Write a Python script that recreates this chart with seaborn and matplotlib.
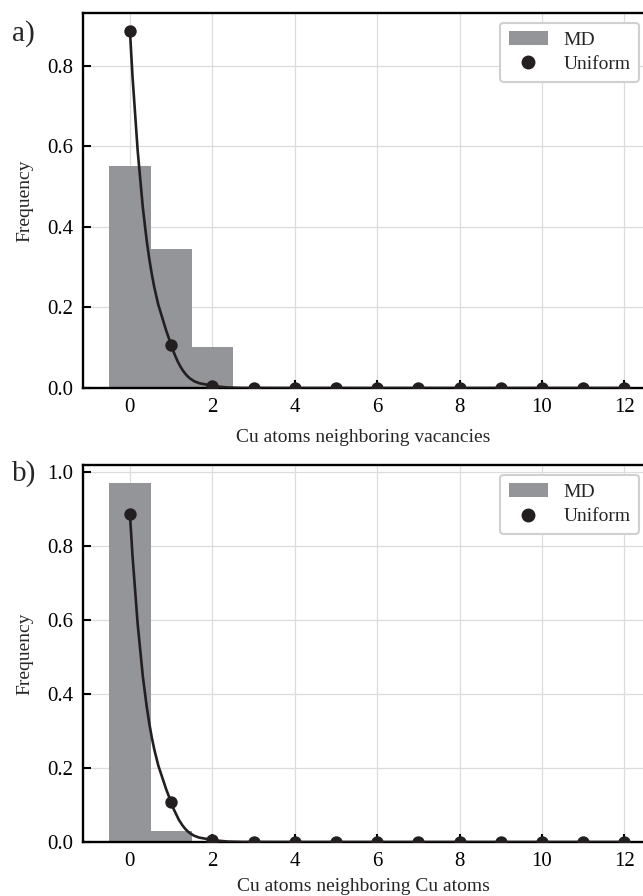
import numpy as np
import pandas as pd
import seaborn as sns
import matplotlib
matplotlib.use("Agg")
import matplotlib.pyplot as plt
from matplotlib.path import Path
from matplotlib.patches import PathPatch, Patch
from matplotlib.lines import Line2D

# data
n_neighbors = list(range(13))
md_vacancies = [0.55, 0.345, 0.102, 0, 0, 0, 0, 0, 0, 0, 0, 0, 0]
md_cu = [0.97, 0.03, 0, 0, 0, 0, 0, 0, 0, 0, 0, 0, 0]
uniform = [0.886, 0.107, 0.006, 0.0002, 0, 0, 0, 0, 0, 0, 0, 0, 0]
xlabels = ["Cu atoms neighboring vacancies", "Cu atoms neighboring Cu atoms"]
panel_tags = ["a)", "b)"]

bar_color = "#939598"
dot_color = "#231f20"

sns.set_theme(style="ticks")
plt.rcParams["font.family"] = ["Liberation Serif", "DejaVu Serif"]


def smooth_path(x, y):
    # cubic bezier through the points, tangents follow the decay rate
    y = np.asarray(y, dtype=float)
    d = np.zeros(len(y))
    for i in range(len(y) - 1):
        if y[i] > 0 and y[i + 1] > 0:
            d[i] = y[i] * np.log(y[i + 1] / y[i])
    verts = [(x[0], y[0])]
    codes = [Path.MOVETO]
    for i in range(len(y) - 1):
        h = x[i + 1] - x[i]
        verts += [(x[i] + h / 3, y[i] + d[i] * h / 3),
                  (x[i + 1] - h / 3, y[i + 1] - d[i + 1] * h / 3),
                  (x[i + 1], y[i + 1])]
        codes += [Path.CURVE4] * 3
    return Path(verts, codes)


fig = plt.figure(figsize=(6.43, 8.96), dpi=100)
ax_a = fig.add_axes([0.129, 0.567, 0.871, 0.4185])
ax_b = fig.add_axes([0.129, 0.0603, 0.871, 0.4207])

for ax, md, xl, pad in zip([ax_a, ax_b], [md_vacancies, md_cu], xlabels, [9, 5]):
    df = pd.DataFrame({"n": n_neighbors, "md": md, "uniform": uniform})
    sns.barplot(data=df, x="n", y="md", native_scale=True, width=1.0,
                color=bar_color, saturation=1, errorbar=None, ax=ax,
                linewidth=0, edgecolor="none", zorder=2)
    ax.add_patch(PathPatch(smooth_path(n_neighbors, uniform), fill=False,
                           edgecolor=dot_color, lw=1.9, zorder=3))
    sns.scatterplot(data=df, x="n", y="uniform", color=dot_color, s=80,
                    edgecolor=dot_color, linewidth=0, ax=ax, zorder=4)
    ax.set_xlim(-1.14, 12.45)
    ax.set_ylim(0, max(max(md), max(uniform)) * 1.05)
    ax.set_xticks(range(0, 13, 2))
    ax.yaxis.set_major_formatter(plt.FormatStrFormatter("%.1f"))
    ax.grid(True, color="#dcdcdc", lw=0.9, zorder=0)
    ax.set_axisbelow(True)
    ax.tick_params(direction="in", length=6, width=1.5, labelsize=15,
                   colors="black", pad=7)
    for s in ["left", "bottom", "top"]:
        ax.spines[s].set_linewidth(1.7)
        ax.spines[s].set_color("black")
    ax.spines["right"].set_visible(False)
    ax.set_xlabel(xl, fontsize=14, labelpad=pad)
    ax.set_ylabel("Frequency", fontsize=14, labelpad=10)

    handles = [Patch(facecolor=bar_color, edgecolor="none"),
               Line2D([], [], ls="none", marker="o", ms=9, color=dot_color)]
    leg = ax.legend(handles, ["MD", "Uniform"], loc="upper right",
                    bbox_to_anchor=(1.0, 0.985), borderaxespad=0.2,
                    fontsize=14, frameon=True, fancybox=True,
                    handlelength=2.0, handletextpad=0.8,
                    borderpad=0.45, labelspacing=0.35)
    leg.get_frame().set_edgecolor("#d0d0d0")
    leg.get_frame().set_linewidth(1.5)
    leg.get_frame().set_alpha(1)

fig.text(0.018, 0.963, panel_tags[0], fontsize=21, ha="left", va="center")
fig.text(0.018, 0.472, panel_tags[1], fontsize=21, ha="left", va="center")

fig.savefig("out.png", dpi=100)
